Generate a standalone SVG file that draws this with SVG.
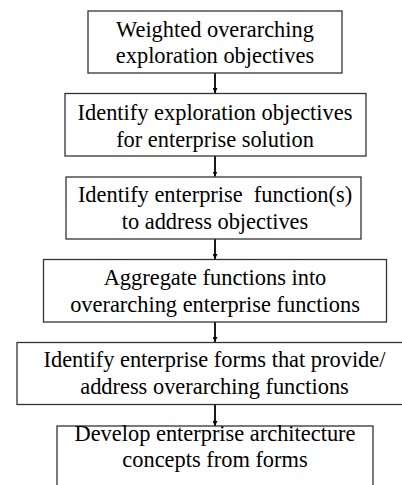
<svg xmlns="http://www.w3.org/2000/svg" width="402" height="485" viewBox="0 0 402 485">
<style>
.box{fill:#fff;stroke:#333;stroke-width:1.3}
.t{font-family:"Liberation Serif","Times New Roman",serif;font-size:22.4px;fill:#000;text-anchor:middle;white-space:pre}
.c{stroke:#000;stroke-width:1.8;fill:none}
</style>
<defs>
<marker id="ah" viewBox="0 0 10 10" refX="10" refY="5" markerWidth="5" markerHeight="5" markerUnits="userSpaceOnUse" orient="auto"><path d="M0,0 L10,5 L0,10 Z" fill="#000"/></marker>
</defs>
<rect width="402" height="485" fill="#fff"/>
<g id="connectors">
<line class="c" x1="215" y1="73" x2="215" y2="93" marker-end="url(#ah)"/>
<line class="c" x1="215" y1="156" x2="215" y2="176.5" marker-end="url(#ah)"/>
<line class="c" x1="215" y1="239" x2="215" y2="259" marker-end="url(#ah)"/>
<line class="c" x1="215" y1="322" x2="215" y2="342" marker-end="url(#ah)"/>
<line class="c" x1="215" y1="405" x2="215" y2="426" marker-end="url(#ah)"/>
</g>
<g id="n1"><rect class="box" x="88" y="11" width="254" height="62"/>
<text class="t" x="215" y="37">Weighted overarching</text>
<text class="t" x="215" y="63">exploration objectives</text></g>
<g id="n2"><rect class="box" x="65" y="93.5" width="301" height="62.5"/>
<text class="t" x="215" y="120">Identify exploration objectives</text>
<text class="t" x="215" y="146.5">for enterprise solution</text></g>
<g id="n3"><rect class="box" x="66" y="177" width="295" height="62"/>
<text class="t" x="215" y="202" xml:space="preserve">Identify enterprise  function(s)</text>
<text class="t" x="215" y="228.5">to address objectives</text></g>
<g id="n4"><rect class="box" x="43.5" y="259.5" width="343" height="62.5"/>
<text class="t" x="215" y="285">Aggregate functions into</text>
<text class="t" x="215" y="311.5">overarching enterprise functions</text></g>
<g id="n5"><rect class="box" x="17" y="342.5" width="400" height="62"/>
<text class="t" x="214.5" y="367">Identify enterprise forms that provide/</text>
<text class="t" x="214.5" y="393.5">address overarching functions</text></g>
<g id="n6"><rect class="box" x="57" y="426" width="316" height="70"/>
<text class="t" x="215" y="441">Develop enterprise architecture</text>
<text class="t" x="215" y="467">concepts from forms</text></g>
</svg>
